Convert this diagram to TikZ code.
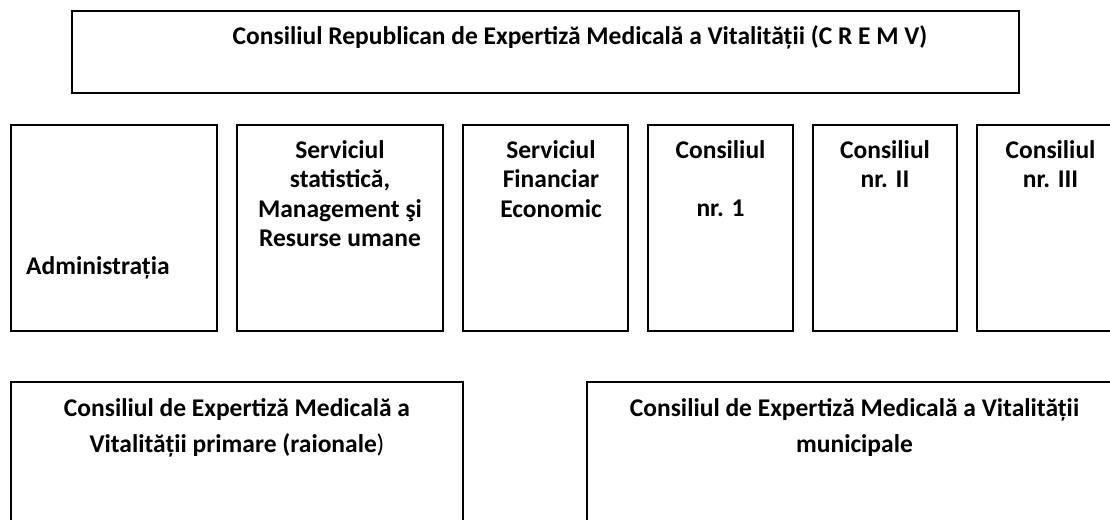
\documentclass[tikz,border=0pt]{standalone}
\usepackage{fontspec}
\setmainfont{Carlito}
\begin{document}
\begin{tikzpicture}[x=1pt,y=-1pt,
  box/.style={draw=black, line width=1.3pt, inner sep=0pt, fill=none},
  lbl/.style={font=\fontsize{25.5}{30}\selectfont\bfseries, inner sep=0pt, anchor=base}]
\useasboundingbox (0,0) rectangle (1110,519);
\clip (0,0) rectangle (1110,519);
% boxes
\node[box, minimum width=947pt, minimum height=82pt] (crem) at (545.5,52) {};
\node[box, minimum width=206pt, minimum height=206pt] (adm) at (114,228) {};
\node[box, minimum width=206pt, minimum height=206pt] (stat) at (340,228) {};
\node[box, minimum width=165pt, minimum height=206pt] (fin) at (545.5,228) {};
\node[box, minimum width=145pt, minimum height=206pt] (c1) at (720.5,228) {};
\node[box, minimum width=144pt, minimum height=206pt] (c2) at (885,228) {};
\node[box, minimum width=147pt, minimum height=206pt] (c3) at (1050.5,228) {};
\node[box, minimum width=452pt, minimum height=178pt] (raion) at (237,471) {};
\node[box, minimum width=535pt, minimum height=178pt] (mun) at (854.5,471) {};
% texts
\node[lbl] (tcrem) at (580,45) {Consiliul Republican de Expertiză Medicală a Vitalității (C R E M V)};
\node[lbl, anchor=base west] (tadm) at (26,274) {Administrația};
\node[lbl] (ts1) at (340,158) {Serviciul};
\node[lbl] (ts2) at (340,187.5) {statistică,};
\node[lbl] (ts3) at (340,217) {Management şi};
\node[lbl] (ts4) at (340,246.5) {Resurse umane};
\node[lbl] (tf1) at (551,158) {Serviciul};
\node[lbl] (tf2) at (551,187.5) {Financiar};
\node[lbl] (tf3) at (551,217) {Economic};
\node[lbl] (tc1a) at (720.5,158) {Consiliul};
\node[lbl] (tc1b) at (720.5,216) {nr. 1};
\node[lbl] (tc2a) at (885,158) {Consiliul};
\node[lbl] (tc2b) at (885,187.5) {nr. II};
\node[lbl] (tc3a) at (1050.5,158) {Consiliul};
\node[lbl] (tc3b) at (1050.5,187.5) {nr. III};
\node[lbl] (tr1) at (237,416) {Consiliul de Expertiză Medicală a};
\node[lbl] (tr2) at (237,452) {Vitalității primare (raionale{\mdseries )}};
\node[lbl] (tm1) at (854.5,416) {Consiliul de Expertiză Medicală a Vitalității};
\node[lbl] (tm2) at (854.5,452) {municipale};
\end{tikzpicture}
\end{document}
